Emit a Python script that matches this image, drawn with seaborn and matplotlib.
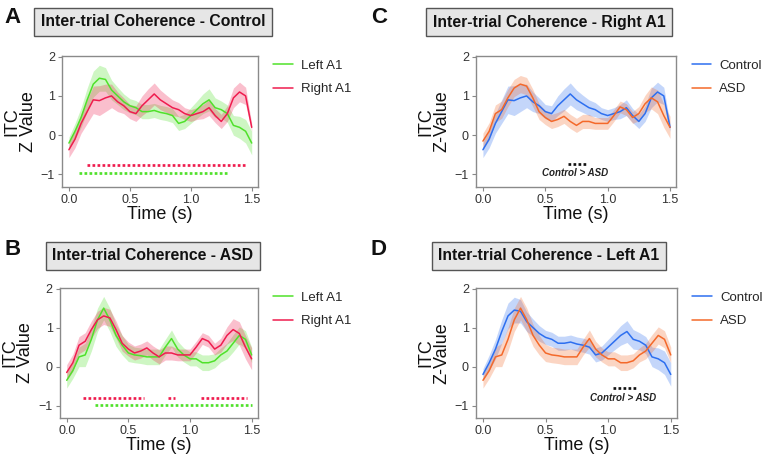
import numpy as np
import pandas as pd
import matplotlib
matplotlib.use("Agg")
import matplotlib.pyplot as plt
import seaborn as sns

sns.set_theme(style="white")
plt.rcParams["font.family"] = ["Liberation Sans", "DejaVu Sans"]

# ---------------- data ----------------
time = [0.00, 0.05, 0.10, 0.15, 0.20, 0.25, 0.30, 0.35, 0.40, 0.45, 0.50,
        0.55, 0.60, 0.65, 0.70, 0.75, 0.80, 0.85, 0.90, 0.95, 1.00,
        1.05, 1.10, 1.15, 1.20, 1.25, 1.30, 1.35, 1.40, 1.45, 1.50]

ctrl_left = [-0.20, 0.10, 0.45, 0.90, 1.30, 1.45, 1.42, 1.15, 1.00, 0.85, 0.75,
             0.70, 0.60, 0.60, 0.63, 0.58, 0.55, 0.50, 0.30, 0.35, 0.50,
             0.65, 0.80, 0.90, 0.70, 0.65, 0.55, 0.25, 0.20, 0.10, -0.20]
ctrl_left_sem = [0.15, 0.20, 0.25, 0.30, 0.33, 0.33, 0.30, 0.25, 0.22, 0.20, 0.18,
                 0.18, 0.18, 0.18, 0.18, 0.18, 0.18, 0.18, 0.18, 0.18, 0.20,
                 0.22, 0.25, 0.28, 0.25, 0.22, 0.22, 0.25, 0.28, 0.30, 0.30]

ctrl_right = [-0.37, -0.10, 0.30, 0.60, 0.90, 0.88, 0.95, 1.00, 0.85, 0.75, 0.60,
              0.55, 0.75, 0.90, 1.05, 0.90, 0.80, 0.70, 0.65, 0.55, 0.50,
              0.55, 0.60, 0.70, 0.50, 0.35, 0.55, 0.95, 1.10, 1.00, 0.20]
ctrl_right_sem = [0.20, 0.22, 0.25, 0.30, 0.35, 0.38, 0.35, 0.30, 0.25, 0.20, 0.18,
                  0.20, 0.25, 0.28, 0.28, 0.25, 0.22, 0.20, 0.18, 0.15, 0.15,
                  0.15, 0.18, 0.20, 0.18, 0.18, 0.20, 0.25, 0.25, 0.22, 0.10]

asd_left = [-0.35, -0.10, 0.25, 0.30, 0.70, 1.20, 1.50, 1.20, 0.80, 0.55, 0.35,
            0.30, 0.28, 0.25, 0.25, 0.25, 0.50, 0.72, 0.45, 0.30, 0.20,
            0.20, 0.10, 0.10, 0.15, 0.30, 0.40, 0.60, 0.80, 0.70, 0.30]
asd_left_sem = [0.20, 0.20, 0.25, 0.30, 0.30, 0.30, 0.30, 0.30, 0.28, 0.25, 0.22,
                0.20, 0.20, 0.20, 0.20, 0.20, 0.20, 0.22, 0.20, 0.18, 0.18,
                0.18, 0.20, 0.20, 0.18, 0.18, 0.20, 0.22, 0.22, 0.22, 0.20]

asd_right = [-0.15, 0.10, 0.55, 0.65, 0.95, 1.20, 1.30, 1.25, 0.95, 0.60, 0.45,
             0.35, 0.40, 0.48, 0.35, 0.25, 0.35, 0.35, 0.30, 0.30, 0.30,
             0.50, 0.72, 0.65, 0.45, 0.55, 0.80, 0.95, 0.85, 0.50, 0.20]
asd_right_sem = [0.20, 0.22, 0.22, 0.22, 0.22, 0.22, 0.22, 0.22, 0.22, 0.20, 0.18,
                 0.18, 0.18, 0.18, 0.18, 0.18, 0.18, 0.18, 0.15, 0.15, 0.15,
                 0.15, 0.15, 0.15, 0.15, 0.18, 0.22, 0.28, 0.30, 0.30, 0.28]

# significance intervals: (start, end, y-level)
sig_A_right = [(0.145, 1.45, -0.77)]
sig_A_left = [(0.085, 1.30, -0.96)]
sig_B_right = [(0.13, 0.63, -0.80), (0.82, 0.88, -0.80), (1.09, 1.46, -0.80)]
sig_B_left = [(0.23, 1.50, -0.98)]
sig_C = [(0.68, 0.83, -0.73)]
sig_D = [(1.04, 1.23, -0.55)]

titles = ["Inter-trial Coherence - Control", "Inter-trial Coherence - ASD",
          "Inter-trial Coherence - Right A1", "Inter-trial Coherence - Left A1"]
panel_letters = ["A", "B", "C", "D"]

GREEN = "#4fe12a"
RED = "#ef1c4e"
BLUE = "#2d6ff0"
ORANGE = "#f4692a"

fig = plt.figure(figsize=(7.65, 4.54), dpi=100)

axA = fig.add_axes([0.081, 0.588, 0.256, 0.289])
axB = fig.add_axes([0.078, 0.079, 0.259, 0.287])
axC = fig.add_axes([0.622, 0.588, 0.262, 0.289])
axD = fig.add_axes([0.622, 0.079, 0.263, 0.287])


def draw(ax, series, ylabel, sigs, note=None):
    for label, mean, sem, color in series:
        m = np.array(mean)
        s = np.array(sem)
        ax.fill_between(time, m - s, m + s, color=color, alpha=0.28, lw=0)
        df = pd.DataFrame({"Time": time, "ITC": mean})
        sns.lineplot(data=df, x="Time", y="ITC", ax=ax, color=color, lw=1.1,
                     label=label)
    for segs, color in sigs:
        for (a, b, y) in segs:
            ax.plot([a, b], [y, y], color=color, lw=1.95,
                    linestyle=(0, (1, 0.85)), dash_capstyle="butt")
    if note is not None:
        ax.text(note[0], note[1], "Control > ASD", fontsize=7,
                fontweight="bold", fontstyle="italic", ha="center",
                va="center", color="#222222")
    ax.set_xlim(-0.057, 1.55)
    ax.set_ylim(-1.32, 2.02)
    ax.set_xticks([0.0, 0.5, 1.0, 1.5])
    ax.set_xticklabels(["0.0", "0.5", "1.0", "1.5"])
    ax.set_yticks([-1, 0, 1, 2])
    ax.set_yticklabels(["\u22121", "0", "1", "2"])
    ax.tick_params(axis="both", labelsize=9, length=3, width=0.8,
                   color="#888888", labelcolor="#333333", pad=2,
                   bottom=True, left=True)
    for sp in ax.spines.values():
        sp.set_color("#8a8a8a")
        sp.set_linewidth(1.0)
    ax.set_xlabel("Time (s)", fontsize=13, labelpad=0, color="#111111")
    ax.set_ylabel(ylabel, fontsize=13, labelpad=3, linespacing=0.95,
                  color="#111111")
    ax.legend(loc="upper left", bbox_to_anchor=(1.05, 1.01), frameon=False,
              fontsize=9.5, handlelength=1.5, handletextpad=0.6,
              labelspacing=0.85, borderaxespad=0)


draw(axA, [("Left A1", ctrl_left, ctrl_left_sem, GREEN),
           ("Right A1", ctrl_right, ctrl_right_sem, RED)],
     "ITC\nZ Value", [(sig_A_right, RED), (sig_A_left, GREEN)])
draw(axB, [("Left A1", asd_left, asd_left_sem, GREEN),
           ("Right A1", asd_right, asd_right_sem, RED)],
     "ITC\nZ Value", [(sig_B_right, RED), (sig_B_left, GREEN)])
draw(axC, [("Control", ctrl_right, ctrl_right_sem, BLUE),
           ("ASD", asd_right, asd_right_sem, ORANGE)],
     "ITC\nZ-Value", [(sig_C, "#111111")], note=(0.74, -0.97))
draw(axD, [("Control", ctrl_left, ctrl_left_sem, BLUE),
           ("ASD", asd_left, asd_left_sem, ORANGE)],
     "ITC\nZ-Value", [(sig_D, "#111111")], note=(1.12, -0.80))

# titles in grey boxes
title_pos = [(153 / 765, 1 - 22 / 454), (153 / 765, 1 - 256 / 454),
             (549 / 765, 1 - 22 / 454), (549 / 765, 1 - 256 / 454)]
for t, (x, y) in zip(titles, title_pos):
    fig.text(x, y, t, fontsize=11.3, fontweight="bold", ha="center",
             va="center", color="#111111",
             bbox=dict(boxstyle="square,pad=0.42", facecolor="#e6e6e6",
                       edgecolor="#555555", linewidth=1.0))

letter_pos = [(4 / 765, 1 - 7 / 454), (4 / 765, 1 - 239 / 454),
              (371 / 765, 1 - 7 / 454), (371 / 765, 1 - 239 / 454)]
for L, (x, y) in zip(panel_letters, letter_pos):
    fig.text(x, y, L, fontsize=16, fontweight="bold", ha="left", va="top",
             color="#111111")

fig.savefig("out.png", dpi=100)
